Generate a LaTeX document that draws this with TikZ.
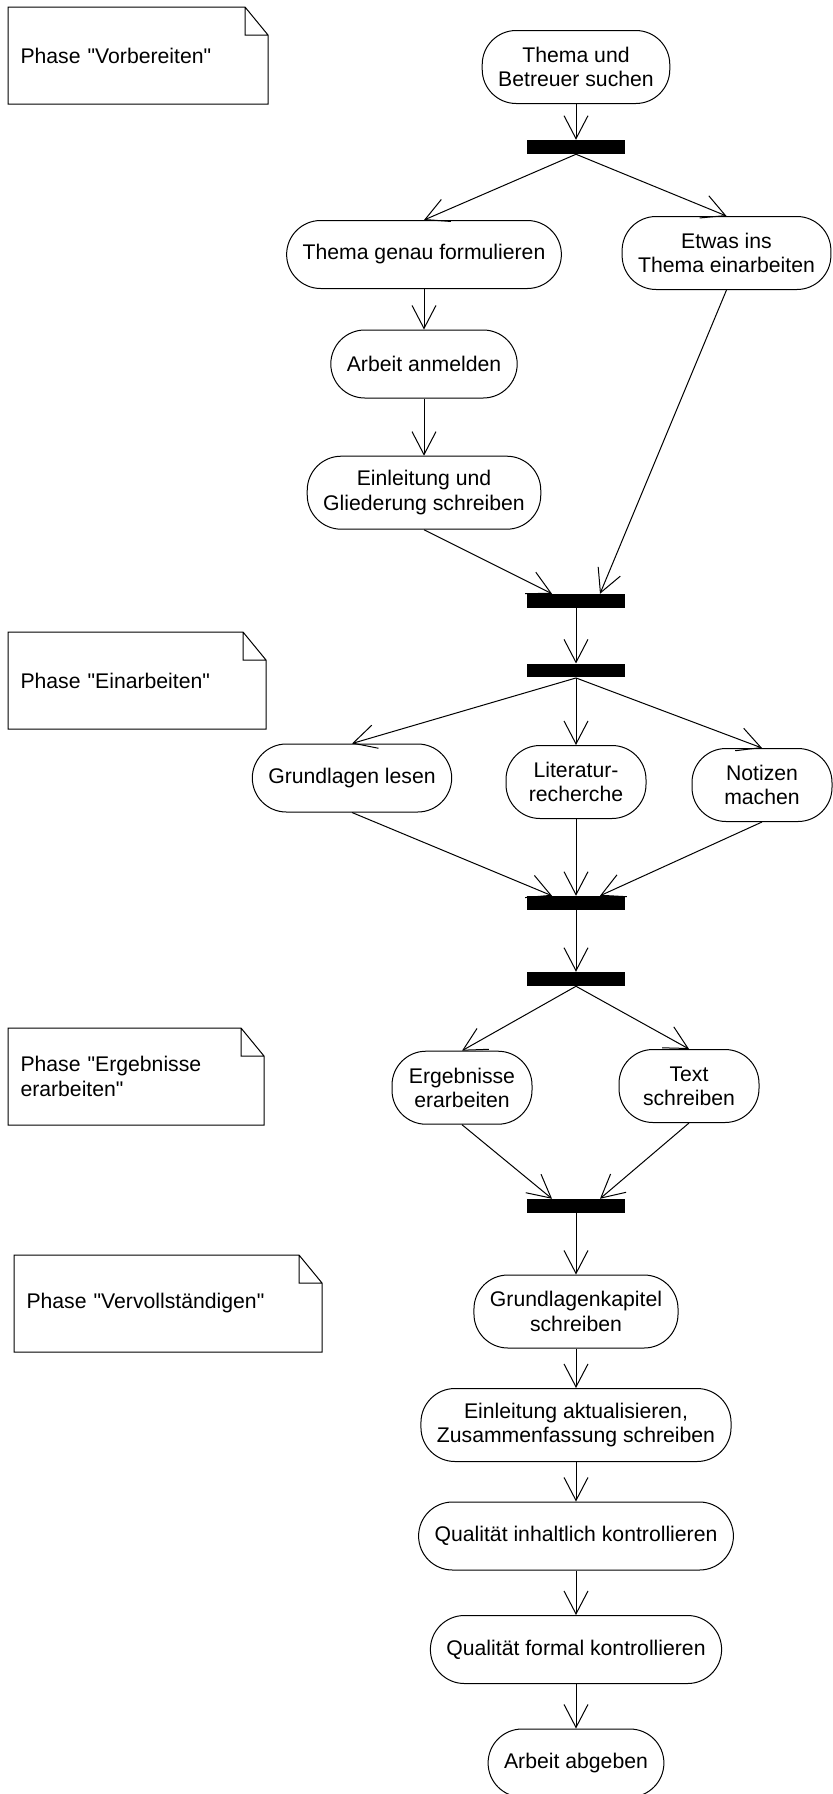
\documentclass[tikz,border=0pt]{standalone}
\usepackage{fontspec}
\setmainfont{Liberation Sans}[Ligatures=TeXOff]
\usetikzlibrary{arrows.meta}

\begin{document}
\begin{tikzpicture}[x=.5pt,y=-.5pt,line width=.5pt,
        >={Straight Barb[length=11.5pt,width=12pt]}]
    \tikzstyle{act} = [draw,rounded corners=17pt,minimum width=70pt,
        minimum height=34pt,inner xsep=8pt,align=center,
        font=\fontsize{10.6}{12.2}\selectfont]
    \tikzstyle{acttwo} = [act,minimum height=36.5pt]
    \tikzstyle{bar} = [fill=black,minimum width=49pt,minimum height=6.75pt,
        inner sep=0pt]
    \tikzstyle{phase} = [anchor=north west,minimum height=48pt,inner xsep=6pt,
        align=left,font=\fontsize{10.6}{12.2}\selectfont]
    \useasboundingbox (0,0) rectangle (832,1794);
    % notes
    \node[phase,text width=117.5pt] (phase1) at (8,7) {Phase "Vorbereiten"};
    \node[phase,text width=116.5pt] (phase2) at (8,632) {Phase "Einarbeiten"};
    \node[phase,text width=115.5pt] (phase3) at (8,1028)
        {Phase "Ergebnisse\\erarbeiten"};
    \node[phase,text width=141.5pt] (phase4) at (14,1255)
        {Phase "Vervollständigen"};
    \foreach \n in {phase1,phase2,phase3,phase4}
        \draw (\n.south west) -- (\n.north west) -- ([xshift=-11.5pt]\n.north east)
              -- ([yshift=-14pt]\n.north east) -- (\n.south east) -- cycle
              ([xshift=-11.5pt]\n.north east) |- ([yshift=-14pt]\n.north east);
    % activities
    \node[acttwo] (start) at (576,67) {Thema und\\Betreuer suchen};
    \node[bar] (fork1) at (576,147) {};
    \node[act] (formulieren) at (424,254.5) {Thema genau formulieren};
    \node[acttwo] (einarbeiten) at (726.5,253) {Etwas ins\\Thema einarbeiten};
    \node[act] (anmelden) at (424,364) {Arbeit anmelden};
    \node[acttwo] (gliederung) at (424,492.7) {Einleitung und\\Gliederung schreiben};
    \node[bar] (join1) at (576,601) {};
    \node[bar] (fork2) at (576,670.7) {};
    \node[act] (lesen) at (352,778) {Grundlagen lesen};
    \node[acttwo] (recherche) at (576,782) {Literatur-\\recherche};
    \node[acttwo] (notizen) at (762,785) {Notizen\\machen};
    \node[bar] (join2) at (576,903) {};
    \node[bar] (fork3) at (576,979) {};
    \node[acttwo] (ergebnisse) at (462,1087.7) {Ergebnisse\\erarbeiten};
    \node[acttwo] (text) at (689,1086) {Text\\schreiben};
    \node[bar] (join3) at (576,1206) {};
    \node[acttwo] (kapitel) at (576,1311.5) {Grundlagenkapitel\\schreiben};
    \node[acttwo] (aktualisieren) at (576,1425)
        {Einleitung aktualisieren,\\Zusammenfassung schreiben};
    \node[act] (inhaltlich) at (576,1536) {Qualität inhaltlich kontrollieren};
    \node[act] (formal) at (576,1649.5) {Qualität formal kontrollieren};
    \node[act] (abgabe) at (576,1763) {Arbeit abgeben};
    % flows
    \draw[->] (start.south) -- (fork1.north);
    \draw[->] (fork1.south) -- (formulieren.north);
    \draw[->] (fork1.south) -- (einarbeiten.north);
    \draw[->] (formulieren.south) -- (anmelden.north);
    \draw[->] (anmelden.south) -- (gliederung.north);
    \draw[->] (gliederung.south) -- ([xshift=-12pt]join1.north);
    \draw[->] (einarbeiten.south) -- ([xshift=12pt]join1.north);
    \draw[->] (join1.south) -- (fork2.north);
    \draw[->] (fork2.south) -- (lesen.north);
    \draw[->] (fork2.south) -- (recherche.north);
    \draw[->] (fork2.south) -- (notizen.north);
    \draw[->] (lesen.south) -- ([xshift=-12pt]join2.north);
    \draw[->] (recherche.south) -- (join2.north);
    \draw[->] (notizen.south) -- ([xshift=12pt]join2.north);
    \draw[->] (join2.south) -- (fork3.north);
    \draw[->] (fork3.south) -- (ergebnisse.north);
    \draw[->] (fork3.south) -- (text.north);
    \draw[->] (ergebnisse.south) -- ([xshift=-12pt]join3.north);
    \draw[->] (text.south) -- ([xshift=12pt]join3.north);
    \draw[->] (join3.south) -- (kapitel.north);
    \draw[->] (kapitel.south) -- (aktualisieren.north);
    \draw[->] (aktualisieren.south) -- (inhaltlich.north);
    \draw[->] (inhaltlich.south) -- (formal.north);
    \draw[->] (formal.south) -- (abgabe.north);
\end{tikzpicture}
\end{document}
